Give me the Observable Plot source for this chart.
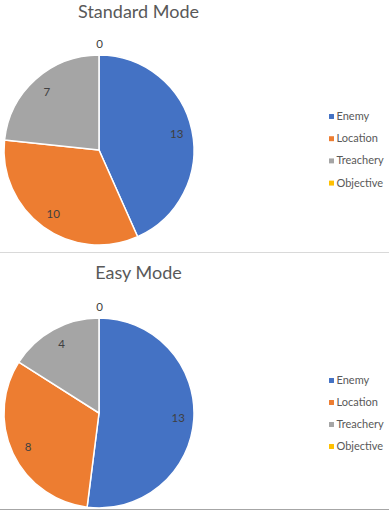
<!DOCTYPE html>
<html>
<head>
<meta charset="utf-8">
<script src="https://cdn.jsdelivr.net/npm/d3@7"></script>
<script src="https://cdn.jsdelivr.net/npm/@observablehq/plot@0.6"></script>
<style>
  html, body { margin: 0; padding: 0; background: #fff; }
  #wrap { width: 389px; height: 511px; position: relative; overflow: hidden; }
  .sep { height: 1px; background: #d9d9d9; width: 389px; }
  .bottom { height: 1px; background: #a6a6a6; width: 389px; }
  svg { display: block; }
</style>
</head>
<body>
<div id="wrap"></div>
<script>
const categories = ["Enemy", "Location", "Treachery", "Objective"];
const colors = ["#4472C4", "#ED7D31", "#A5A5A5", "#FFC000"];
const standardValues = [13, 10, 7, 0];
const easyValues = [13, 8, 4, 0];
const titles = ["Standard Mode", "Easy Mode"];

const W = 389;
const R = 95;
const CX = 99;

function panel(title, values, height, cy, titleY, legendTop, legendStep) {
  const data = categories.map((c, i) => ({category: c, value: values[i]}));
  const pie = d3.pie().value(d => d.value).sort(null)(data);
  const labels = pie.map(p => {
    const mid = (p.startAngle + p.endAngle) / 2;
    const rr = p.data.value === 0 ? R + 11 : R * 0.83;
    return {
      text: String(p.data.value),
      x: CX + rr * Math.sin(mid),
      y: cy - rr * Math.cos(mid)
    };
  });
  const legend = categories.map((c, i) => ({category: c, y: legendTop + i * legendStep}));

  const sliceMark = (index, scales) => {
    const g = d3.create("svg:g");
    const arc = d3.arc().innerRadius(0).outerRadius(R);
    g.selectAll("path")
      .data(pie.filter(p => p.data.value > 0))
      .join("path")
      .attr("transform", `translate(${scales.x(CX)},${scales.y(cy)})`)
      .attr("d", arc)
      .attr("fill", p => scales.color(p.data.category))
      .attr("stroke", "#fff")
      .attr("stroke-width", 1.5)
      .attr("stroke-linejoin", "round");
    return g.node();
  };

  return Plot.plot({
    width: W,
    height,
    margin: 0,
    x: {type: "identity", axis: null},
    y: {type: "identity", axis: null},
    color: {domain: categories, range: colors},
    style: {fontFamily: "Lato, 'Open Sans', sans-serif", background: "#fff"},
    marks: [
      sliceMark,
      Plot.text(labels, {x: "x", y: "y", text: "text", fill: "#404040", fontSize: 11.5}),
      Plot.text([title], {x: () => 138, y: () => titleY, text: d => d, fill: "#595959", fontSize: 18}),
      Plot.dot(legend, {x: () => 331, y: "y", symbol: "square", r: 2.8, fill: "category", stroke: null}),
      Plot.text(legend, {x: () => 336, y: "y", text: "category", textAnchor: "start", fill: "#595959", fontSize: 11})
    ]
  });
}

const wrap = document.getElementById("wrap");
wrap.appendChild(panel(titles[0], standardValues, 252, 150, 12, 116, 22.2));
const sep = document.createElement("div"); sep.className = "sep"; wrap.appendChild(sep);
wrap.appendChild(panel(titles[1], easyValues, 256, 160, 20, 127, 22));
const bot = document.createElement("div"); bot.className = "bottom"; wrap.appendChild(bot);
</script>
</body>
</html>
